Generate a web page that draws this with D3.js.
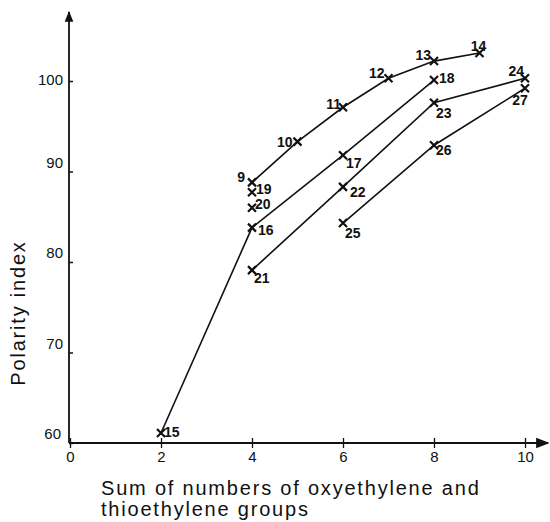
<!DOCTYPE html>
<html>
<head>
<meta charset="utf-8">
<script src="https://cdn.jsdelivr.net/npm/d3@7"></script>
<style>
  html, body { margin: 0; padding: 0; background: #fff; }
  svg { display: block; }
  .tick-label { font-family: "Liberation Sans", Arial, sans-serif; font-size: 15px; fill: #111; }
  .pt-label { font-family: "Liberation Sans", Arial, sans-serif; font-size: 14px; font-weight: bold; fill: #111; }
  .title { font-family: "Liberation Sans", Arial, sans-serif; font-size: 20px; fill: #111; letter-spacing: 1.8px; }
</style>
</head>
<body>
<script>
// Compound numbers and their measured positions
const pointIds = [9, 10, 11, 12, 13, 14, 15, 16, 17, 18, 19, 20, 21, 22, 23, 24, 25, 26, 27];
// Sum of oxyethylene + thioethylene groups
const pointX = [4, 5, 6, 7, 8, 9, 2, 4, 6, 8, 4, 4, 4, 6, 8, 10, 6, 8, 10];
// Polarity index
const pointY = [88.8, 93.3, 97.1, 100.3, 102.2, 103.1, 61.1, 83.8, 91.8, 100.1, 87.7, 86.0, 79.1, 88.3, 97.6, 100.3, 84.3, 92.9, 99.2];

// Homologous series joined by lines (by compound number)
const series = [
  [9, 10, 11, 12, 13, 14],
  [15, 16, 17, 18],
  [21, 22, 23, 24],
  [25, 26, 27]
];

const xTicks = [0, 2, 4, 6, 8, 10];
const yTicks = [60, 70, 80, 90, 100];
const xTitle = ["Sum of numbers of oxyethylene and", "thioethylene groups"];
const yTitle = "Polarity index";

// Label placement around each marker: [anchor, dx, dy]
const labelPlace = {
  9: ["end", -7, -5], 10: ["end", -5, 0], 11: ["end", -2, -3], 12: ["end", -4, -5],
  13: ["end", -3, -6], 14: ["middle", -1, -7], 15: ["start", 3, -1], 16: ["start", 6, 2],
  17: ["start", 3, 8], 18: ["start", 5, -2], 19: ["start", 4, -3], 20: ["start", 3, -4],
  21: ["start", 2, 8], 22: ["start", 7, 5], 23: ["start", 2, 10], 24: ["end", -1, -7],
  25: ["start", 2, 10], 26: ["start", 2, 5], 27: ["middle", -5, 12]
};

const W = 550, H = 522;
const svg = d3.select("body").append("svg").attr("width", W).attr("height", H);

const x = d3.scaleLinear().domain([0, 10]).range([70, 525]);
const y = d3.scaleLinear().domain([60, 100]).range([443, 81]);

const points = pointIds.map((id, i) => ({ id, x: pointX[i], y: pointY[i] }));
const byId = new Map(points.map(p => [p.id, p]));

// Arrowhead for the axes
svg.append("defs").append("marker")
  .attr("id", "arrow").attr("viewBox", "0 0 10 10")
  .attr("refX", 9).attr("refY", 5)
  .attr("markerWidth", 6).attr("markerHeight", 6)
  .attr("markerUnits", "strokeWidth")
  .attr("orient", "auto")
  .append("path").attr("d", "M0,1 L10,5 L0,9 Z").attr("fill", "#111");

// X axis
const xAxis = svg.append("g").attr("transform", `translate(0,${y(60)})`)
  .call(d3.axisBottom(x).tickValues(xTicks).tickSize(5).tickFormat(d3.format("d")));
xAxis.select(".domain").remove();
xAxis.selectAll(".tick line").attr("y1", -5).attr("y2", 5).attr("stroke", "#111").attr("stroke-width", 1.3);
xAxis.selectAll(".tick text").attr("class", "tick-label").attr("y", 8).attr("dy", "0.71em")
  .attr("font-size", null).attr("font-family", null);

svg.append("line")
  .attr("x1", x(0) - 1).attr("x2", 548)
  .attr("y1", y(60)).attr("y2", y(60))
  .attr("stroke", "#111").attr("stroke-width", 2.2)
  .attr("marker-end", "url(#arrow)");

// Y axis
const yAxis = svg.append("g").attr("transform", `translate(${x(0) - 1},0)`)
  .call(d3.axisLeft(y).tickValues(yTicks).tickSize(5).tickFormat(d3.format("d")));
yAxis.select(".domain").remove();
yAxis.selectAll(".tick line").attr("x1", 0).attr("x2", 4).attr("stroke", "#111").attr("stroke-width", 1.5);
yAxis.selectAll(".tick text").attr("class", "tick-label")
  .attr("x", d => d === 60 ? -8 : -6)
  .attr("y", d => d === 100 ? -1 : -9)
  .attr("dy", "0.32em")
  .attr("font-size", null).attr("font-family", null);

svg.append("line")
  .attr("x1", x(0) - 1).attr("x2", x(0) - 1)
  .attr("y1", y(60)).attr("y2", 12)
  .attr("stroke", "#111").attr("stroke-width", 1.8)
  .attr("marker-end", "url(#arrow)");

// Series lines
const line = d3.line().x(p => x(p.x)).y(p => y(p.y));
svg.append("g").selectAll("path").data(series).join("path")
  .attr("d", s => line(s.map(id => byId.get(id))))
  .attr("fill", "none").attr("stroke", "#111").attr("stroke-width", 1.6);

// Cross markers
const s = 4;
const marks = svg.append("g").selectAll("g").data(points).join("g")
  .attr("transform", p => `translate(${x(p.x)},${y(p.y)})`);
marks.append("path")
  .attr("d", `M${-s},${-s}L${s},${s}M${-s},${s}L${s},${-s}`)
  .attr("stroke", "#111").attr("stroke-width", 2.2).attr("fill", "none");

// Compound numbers
svg.append("g").selectAll("text").data(points).join("text")
  .attr("class", "pt-label")
  .attr("x", p => x(p.x) + labelPlace[p.id][1])
  .attr("y", p => y(p.y) + labelPlace[p.id][2])
  .attr("text-anchor", p => labelPlace[p.id][0])
  .attr("dy", "0.35em")
  .text(p => p.id);

// Axis titles
svg.append("text").attr("class", "title")
  .attr("transform", "translate(25,313) rotate(-90)")
  .attr("text-anchor", "middle")
  .text(yTitle);

svg.append("text").attr("class", "title")
  .selectAll("tspan").data(xTitle).join("tspan")
  .attr("x", 101).attr("y", (d, i) => 495 + i * 21)
  .text(d => d);
</script>
</body>
</html>
